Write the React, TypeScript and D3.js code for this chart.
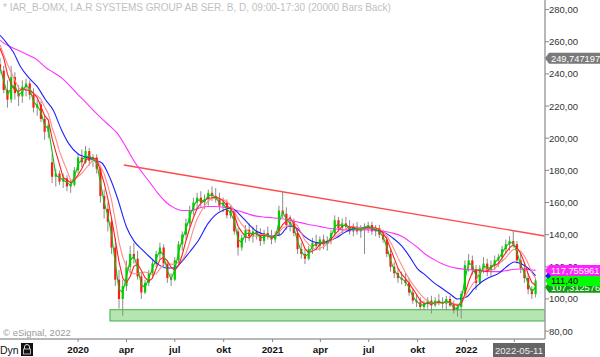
import React from 'react';
import * as d3 from 'd3';

// ---------- data ----------
const firstWeek = '2019-08-05';
const open = [246,242,230,224,238,228,226,232,234,227,219,221,212,204,185,176,178,173,175,170,171,180,188,185,192,186,188,181,164,156,148,132,112,100,108,120,128,125,114,104,110,116,122,128,132,122,113,112,124,134,140,147,155,160,163,160,162,166,164,162,158,160,152,155,142,132,138,143,139,142,140,136,141,139,137,140,155,153,146,148,141,131,128,125,131,135,133,137,134,136,141,149,144,147,145,142,145,142,144,145,146,142,144,140,137,128,120,116,113,112,110,104,99,98,95,97,99,96,99,98,97,100,96,93,95,103,121,124,118,110,119,122,117,121,124,126,131,134,136,134,124,119,113,106,103];
const high = [250,245,236,245,241,233,236,237,236,231,224,223,214,211,190,181,180,178,177,174,182,190,193,195,194,190,190,183,168,160,150,138,118,112,124,133,135,130,116,112,118,124,130,135,134,124,116,126,136,142,150,158,163,166,167,165,168,170,169,166,163,162,158,156,144,140,146,147,145,146,144,143,145,143,142,158,167,157,152,150,143,135,131,133,138,140,139,140,139,143,152,151,150,151,149,147,148,146,147,148,148,146,146,143,139,131,123,119,117,116,113,106,103,101,99,101,102,101,103,101,102,102,99,97,105,124,128,127,121,121,126,125,124,127,128,133,137,139,142.9,136,128,122,116,108,113];
const low = [240,228,219,222,224,220,222,226,224,216,214,210,199,200,172,170,171,169,167,166,170,178,182,184,183,182,178,160,150,142,128,108,94,89.6,105,116,122,112,100,103,108,114,120,125,120,110,108,111,122,130,137,145,152,156,157,156,158,161,160,155,154,150,150,140,127,130,135,136,135,137,133,134,137,134,135,139,150,143,142,139,128,125,121.7,124,128,131,130,131,130,134,139,142,141,143,140,139,140,138,128,141,140,139,138,135,126,117,113,110,109,108,102,97,95,93,93,94,91,95,96,94,93,95,91,89,87.8,102,117,115,105.6,109,116,114,114,118,120,123,128,130,132,122,116,110,103,100,101];
const close = [242,230,224,238,228,226,232,234,227,219,221,212,204,208,176,178,173,175,170,171,180,188,185,192,186,188,181,164,156,148,132,112,100,108,120,128,125,114,104,110,116,122,128,132,122,113,112,124,134,140,147,155,160,163,160,162,166,164,162,158,160,152,155,142,132,138,143,139,142,140,136,141,139,137,140,155,153,146,148,141,131,128,125,131,135,133,137,134,136,141,149,144,147,145,142,145,142,144,145,146,142,144,140,137,128,120,116,113,112,110,104,99,98,95,97,99,96,99,98,97,100,96,93,95,103,121,124,118,110,119,122,117,121,124,126,131,134,136,134,124,119,113,106,103,111.4];
// fast averages, one value per weekly candle
const maGreen = [244,236,227,231,233,227,229,233,230.5,223,220,216.5,208,206,192,177,175.5,174,172.5,170.5,175.5,184,186.5,188.5,189,187,184.5,172.5,160,152,140,122,106,104,114,124,126.5,119.5,109,107,113,119,125,130,127,117.5,112.5,118,129,137,143.5,151,157.5,161.5,161.5,161,164,165,163,160,159,156,153.5,148.5,137,135,140.5,141,140.5,141,138,138.5,140,138,138.5,147.5,154,149.5,147,144.5,136,129.5,126.5,128,133,134,135,135.5,135,138.5,145,146.5,145.5,146,143.5,143.5,143.5,143,144.5,145.5,144,143,142,138.5,132.5,124,118,114.5,112.5,111,107,101.5,98.5,96.5,96,98,97.5,97.5,98.5,97.5,98.5,98,94.5,94,99,112,122.5,121,114,114.5,120.5,119.5,119,122.5,125,128.5,132.5,135,135,129,121.5,116,109.5,104.5,107.3];
const maRed = [256,250,240,233.5,230,229,231,230,229.75,228,225.25,219.75,214,211.25,200,191.5,183.75,175.5,174,172.25,174,177.25,181,186.25,187.75,187.75,186.75,179.75,172.25,162.25,150,137,123,113,110,114,120.25,121.75,117.75,113.25,111,113,119,124.5,126,123.75,119.75,117.75,120.75,127.5,136.25,144,150.5,156.25,159.5,161.25,162.75,163,163.5,162.5,161,158,156.25,152.25,145.25,141.75,138.75,138,140.5,141,139.25,139.75,139,138.25,139.25,142.75,146.25,148.5,150.5,147,141.5,137,131.25,128.75,129.75,131,134,134.75,135,137,140,142.5,145.25,146.25,144.5,144.75,143.5,143.25,144,144.25,144.25,144.25,143,140.75,137.25,131.25,125.25,119.25,115.25,112.75,109.75,106.25,102.75,99,97.25,97.25,96.75,97.75,98,97.5,98.5,97.75,96.5,96,96.75,103,110.75,116.5,118.25,117.75,117.25,117,119.75,121,122,125.5,128.75,131.75,133.75,132,128.25,122.5,115.5,110.25,108.35];
const maSalmon = [258,252,246,241,236,231.3,229.7,230.3,230.8,227.7,226.5,224.2,219.5,215.2,206.7,199.8,191.8,185.7,180,173.8,174.5,176.2,178.2,181,183.7,186.5,186.7,182.7,177.8,170.5,161.5,148.8,135.3,126,120,116.7,115.5,115.8,116.5,116.8,116.2,115.2,115.7,118.7,121.7,122.2,121.5,121.8,122.8,124.2,128.3,135.3,143.3,149.8,154.2,157.8,161,162.5,162.8,162,162,160.3,158.5,154.8,149.8,146.5,143.7,141.5,139.3,139,139.7,140.2,139.5,139.2,138.8,141.3,144.2,145,146.5,147.2,145.7,141.2,136.5,134,131.8,130.5,131.5,132.5,134.3,136,138.3,140.2,141.8,143.7,144.7,145.3,144.2,144.2,143.8,144,144,143.8,143.5,142.3,139.5,135.2,130.8,125.7,121,116.5,112.5,109,106,103,100.5,98.7,97.3,97.3,97.3,97.7,98.2,97.7,97.2,96.5,97.3,101.3,105.3,109,111.8,115.8,119,118.3,117.8,118.8,121.5,123.5,125.5,128.7,130.8,130.8,129.7,126.7,122,116.5,112.7];
// slow averages, sampled twice a month
const slowDates = ['2019-08-07','2019-08-15','2019-09-01','2019-09-15','2019-10-01','2019-10-15','2019-11-01','2019-11-15','2019-12-01','2019-12-15',
  '2020-01-01','2020-01-15','2020-02-01','2020-02-15','2020-03-01','2020-03-15','2020-04-01','2020-04-15','2020-05-01','2020-05-15','2020-06-01','2020-06-15','2020-07-01','2020-07-15','2020-08-01','2020-08-15','2020-09-01','2020-09-15','2020-10-01','2020-10-15','2020-11-01','2020-11-15','2020-12-01','2020-12-15',
  '2021-01-01','2021-01-15','2021-02-01','2021-02-15','2021-03-01','2021-03-15','2021-04-01','2021-04-15','2021-05-01','2021-05-15','2021-06-01','2021-06-15','2021-07-01','2021-07-15','2021-08-01','2021-08-15','2021-09-01','2021-09-15','2021-10-01','2021-10-15','2021-11-01','2021-11-15','2021-12-01','2021-12-15',
  '2022-01-01','2022-01-15','2022-02-01','2022-02-15','2022-03-01','2022-03-15','2022-04-01','2022-04-15','2022-05-01','2022-05-11'];
const maMagenta = [261,259,256,254,251.5,249,244,241,237.5,233,
  227,222.5,216.5,212,207.5,203,194,186,178.5,172.5,165,160,156.5,155,155,156.5,157.5,157.5,157,156,154.5,153,151.5,151,
  150.5,150,149,148,147,146,145,144,143.5,143,143,143,143,142.5,142,141,139,136,132,128,124.5,122,120,119,
  118.3,118,117.5,117,117,117.5,118.5,118.6,118.2,117.76];
const maBlue = [264,261.1,253.6,244.3,237.4,232.5,223.8,217.5,205,196.3,
  190.2,188.3,186.4,184.6,175.2,162.8,144.8,136.1,130.5,126.1,121.2,119.3,119.3,123.6,130.5,136.7,146.7,152.2,155.4,156.6,152.2,147.3,142.3,140.4,
  139.2,139.8,145.4,144.2,139.2,136.1,134.8,136.1,138,141.1,143.6,144.2,144.2,142.9,141.1,138,133,126.8,118.7,115,110,106.8,103.1,100,
  101.2,106.2,111.2,113.7,115.6,119.3,123,121.8,118,114.3];
const trendDates = ['2020-03-27', '2022-05-28'];
const trendValues = [183.3, 139.2];
const zoneStart = '2020-03-01';
const zoneLow = 86.3;
const zoneHigh = 93.3;
const yTicks = [80, 100, 120, 140, 160, 180, 200, 220, 240, 260, 280];
const xTickDates = ['2020-01-01','2020-04-01','2020-07-01','2020-10-01','2021-01-01','2021-04-01','2021-07-01','2021-10-01','2022-01-01','2022-04-01'];
const xTickLabels = ['2020','apr','jul','okt','2021','apr','jul','okt','2022',''];
const grayMarker = 249.747197;
const magentaMarker = 117.755961;
const lastPrice = 111.40;
const greenMarker = 107.312576;
const blueMarker = 114.3;
const cursorDate = '2022-05-11';

const FONT = '"Liberation Sans", Arial, Helvetica, sans-serif';
const fmt = (v: number, d: number) => v.toFixed(d).replace('.', ',');

export default function App() {
  const parse = d3.utcParse('%Y-%m-%d');
  const axisX = 545;
  const axisY = 339;
  const x = d3.scaleUtc().domain([parse('2019-08-07')!, parse('2022-01-01')!]).range([0, 466.5]);
  const y = d3.scaleLinear().domain([80, 280]).range([331.1, 9.6]);
  const start = parse(firstWeek)!;
  const candleDates = close.map((_, i) => d3.utcDay.offset(start, 7 * i + 2));
  const slowD = slowDates.map((s) => parse(s)!);

  const lineW = d3.line<number>().x((_, i) => x(candleDates[i])).y((v) => y(v));
  const lineS = d3.line<number>().x((_, i) => x(slowD[i])).y((v) => y(v)).curve(d3.curveMonotoneX);
  const bw = 2.2;

  const label = (v: number, text: string, bg: string, fg: string) => {
    const cy = y(v);
    const h = 11;
    const p = `M${axisX},${cy} L${axisX + 4},${cy - h / 2} L600,${cy - h / 2} L600,${cy + h / 2} L${axisX + 4},${cy + h / 2} Z`;
    return (
      <g key={text}>
        <path d={p} fill={bg} />
        <text x={551} y={cy + 3.5} fontSize={9.3} fill={fg} fontFamily={FONT}>{text}</text>
      </g>
    );
  };

  return (
    <svg width={600} height={357} style={{ position: 'absolute', left: 0, top: 0, background: '#fff' }}>
      <defs>
        <clipPath id="plot"><rect x={0} y={0} width={axisX} height={axisY} /></clipPath>
      </defs>
      <text x={3} y={11} fontSize={10} fill="#c0c0c0" fontFamily={FONT}>* IAR_B-OMX, I.A.R SYSTEMS GROUP AB SER. B, D, 09:00-17:30 (20000 Bars Back)</text>
      <g clipPath="url(#plot)">
        <rect x={x(parse(zoneStart)!)} y={y(zoneHigh)} width={axisX - x(parse(zoneStart)!)} height={y(zoneLow) - y(zoneHigh)}
          fill="#b6e6b0" stroke="#3cb043" strokeWidth={1} />
        <line x1={x(parse(trendDates[0])!)} y1={y(trendValues[0])} x2={x(parse(trendDates[1])!)} y2={y(trendValues[1])}
          stroke="#ff4a4a" strokeWidth={1.4} />
        {close.map((c, i) => {
          const cx = x(candleDates[i]);
          const up = c >= open[i];
          const top = y(Math.max(c, open[i]));
          const bot = y(Math.min(c, open[i]));
          return (
            <g key={i}>
              <line x1={cx} x2={cx} y1={y(high[i])} y2={y(low[i])} stroke="#8c8c8c" strokeWidth={1} />
              <rect x={cx - bw / 2} y={top} width={bw} height={Math.max(1, bot - top)} fill={up ? '#00d000' : '#ff1a1a'} />
            </g>
          );
        })}
        <path d={lineS(maMagenta) || ''} fill="none" stroke="#ff33ff" strokeWidth={1.1} />
        <path d={lineS(maBlue) || ''} fill="none" stroke="#2020ff" strokeWidth={1.1} />
        <path d={lineW(maSalmon) || ''} fill="none" stroke="#ff8a8a" strokeWidth={1.1} />
        <path d={lineW(maRed) || ''} fill="none" stroke="#ff2020" strokeWidth={1.1} />
        <path d={lineW(maGreen) || ''} fill="none" stroke="#10c010" strokeWidth={1.1} />
      </g>
      <line x1={axisX} x2={axisX} y1={0} y2={axisY} stroke="#a0a0a0" strokeWidth={1.5} />
      <line x1={0} x2={axisX} y1={axisY} y2={axisY} stroke="#a0a0a0" strokeWidth={1.5} />
      {yTicks.map((t) => (
        <g key={t}>
          <line x1={axisX} x2={axisX + 4} y1={y(t)} y2={y(t)} stroke="#888" />
          <text x={549} y={y(t) + 3.5} fontSize={9.5} fill="#333" fontFamily={FONT}>{fmt(t, 2)}</text>
        </g>
      ))}
      {xTickDates.map((d, i) => {
        const px = x(parse(d)!);
        return (
          <g key={d}>
            <line x1={px} x2={px} y1={axisY} y2={axisY + 3} stroke="#888" />
            <text x={px} y={353} fontSize={9.8} fontWeight="bold" textAnchor="middle" fill="#111" fontFamily={FONT}>{xTickLabels[i]}</text>
          </g>
        );
      })}
      <text x={3} y={336} fontSize={9.5} fill="#9a9a9a" fontFamily={FONT}>© eSignal, 2022</text>
      <text x={0} y={354} fontSize={10.5} fill="#111" fontFamily={FONT}>Dyn</text>
      <rect x={21} y={343} width={12} height={13} fill="#111" />
      <path d="M24.5,349 v-2 a2.5,2.5 0 0 1 5,0 v2" fill="none" stroke="#ddd" strokeWidth={1} />
      <rect x={23.5} y={349} width={7} height={5} fill="none" stroke="#ddd" strokeWidth={0.8} />
      <rect x={493} y={343} width={52} height={14} fill="#666" />
      <text x={519} y={353.5} fontSize={9.5} fill="#eee" textAnchor="middle" fontFamily={FONT}>{cursorDate}</text>
      {label(grayMarker, fmt(grayMarker, 6), '#7a7a7a', '#fff')}
      {label(greenMarker, fmt(greenMarker, 6), '#119911', '#fff')}
      {label(lastPrice, fmt(lastPrice, 2), '#00ff00', '#000')}
      {label(magentaMarker, fmt(magentaMarker, 6), '#ff22ff', '#fff')}
      <path d={`M${axisX + 3},${y(blueMarker) - 3} l3,3 l-3,3 l-3,-3 Z`} fill="#1a1aff" />
    </svg>
  );
}
